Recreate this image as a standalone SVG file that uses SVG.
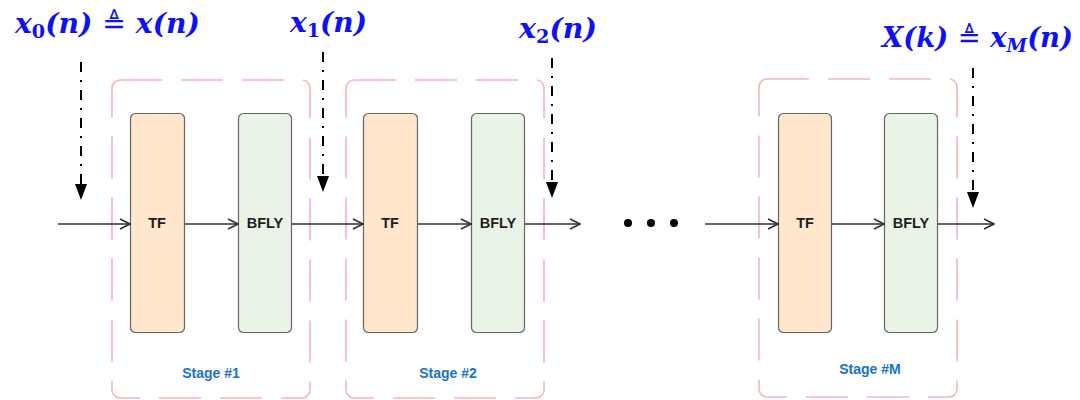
<svg xmlns="http://www.w3.org/2000/svg" width="1080" height="400" viewBox="0 0 1080 400">
  <style>
    .stage { fill: none; stroke: #f4b6b6; stroke-width: 1.6; stroke-dasharray: 42 19; }
    .tf { fill: #ffe6cc; stroke: #666; stroke-width: 1.2; }
    .bfly { fill: #eaf4e6; stroke: #666; stroke-width: 1.2; }
    .blk { font-family: "Liberation Sans", Arial, sans-serif; font-size: 14.5px; font-weight: bold; fill: #1e1e1e; text-anchor: middle; dominant-baseline: central; }
    .stg { font-family: "Liberation Sans", Arial, sans-serif; font-size: 14px; font-weight: bold; fill: #1a73c8; text-anchor: middle; }
    .flow { stroke: #333; stroke-width: 1.6; fill: none; marker-end: url(#open); }
    .probe { stroke: #000; stroke-width: 2; fill: none; stroke-dasharray: 10 8 2 8; }
    .sig { font-family: "DejaVu Serif", "Liberation Serif", serif; font-size: 28px; font-weight: bold; font-style: italic; fill: #1010f5; }
    .sub { font-size: 19px; font-style: normal; }
    .rel { font-family: "DejaVu Sans", sans-serif; font-weight: normal; font-style: normal; font-size: 28px; }
  </style>
  <defs>
    <marker id="open" viewBox="0 0 12 12" refX="11" refY="6" markerWidth="12" markerHeight="12" markerUnits="userSpaceOnUse" orient="auto">
      <path d="M1 1 L11 6 L1 11" fill="none" stroke="#333" stroke-width="1.6"/>
    </marker>
  </defs>

  <!-- stage 1 -->
  <g id="stage1">
    <rect class="stage" x="112" y="80" width="198" height="318" rx="8"/>
    <text class="stg" x="211" y="378">Stage #1</text>
  </g>
  <g id="tf1"><rect class="tf" x="130.5" y="113.5" width="54" height="219" rx="5"/><text class="blk" x="157" y="223">TF</text></g>
  <g id="bfly1"><rect class="bfly" x="238.5" y="113.5" width="53" height="219" rx="5"/><text class="blk" x="265" y="223">BFLY</text></g>

  <!-- stage 2 -->
  <g id="stage2">
    <rect class="stage" x="346" y="80" width="198" height="318" rx="8"/>
    <text class="stg" x="448" y="378">Stage #2</text>
  </g>
  <g id="tf2"><rect class="tf" x="363.5" y="113.5" width="54" height="219" rx="5"/><text class="blk" x="390" y="223">TF</text></g>
  <g id="bfly2"><rect class="bfly" x="471.5" y="113.5" width="53" height="219" rx="5"/><text class="blk" x="498" y="223">BFLY</text></g>

  <!-- stage M -->
  <g id="stageM">
    <rect class="stage" x="759" y="79" width="198" height="318" rx="8"/>
    <text class="stg" x="870" y="374">Stage #M</text>
  </g>
  <g id="tfM"><rect class="tf" x="778.5" y="113.5" width="53" height="219" rx="5"/><text class="blk" x="805" y="223">TF</text></g>
  <g id="bflyM"><rect class="bfly" x="884.5" y="113.5" width="53" height="219" rx="5"/><text class="blk" x="911" y="223">BFLY</text></g>

  <!-- ellipsis between stages -->
  <g id="ellipsis" fill="#000">
    <circle cx="628" cy="223" r="4"/>
    <circle cx="651" cy="223" r="4"/>
    <circle cx="674" cy="223" r="4"/>
  </g>

  <!-- data path -->
  <g id="connectors">
    <line class="flow" x1="58" y1="224" x2="130" y2="224"/>
    <line class="flow" x1="185" y1="224" x2="238" y2="224"/>
    <line class="flow" x1="292" y1="224" x2="363" y2="224"/>
    <line class="flow" x1="418" y1="224" x2="471" y2="224"/>
    <line class="flow" x1="525" y1="224" x2="580" y2="224"/>
    <line class="flow" x1="705" y1="224" x2="778" y2="224"/>
    <line class="flow" x1="832" y1="224" x2="884" y2="224"/>
    <line class="flow" x1="938" y1="224" x2="994" y2="224"/>

    <!-- signal probes -->
    <line class="probe" x1="81" y1="62" x2="81" y2="186"/>
    <path d="M75 184 L87 184 L81 200 Z" fill="#000"/>
    <line class="probe" x1="323" y1="52" x2="323" y2="178"/>
    <path d="M317 176 L329 176 L323 192 Z" fill="#000"/>
    <line class="probe" x1="552" y1="58" x2="552" y2="184"/>
    <path d="M546 182 L558 182 L552 198 Z" fill="#000"/>
    <line class="probe" x1="973" y1="68" x2="973" y2="194"/>
    <path d="M967 192 L979 192 L973 208 Z" fill="#000"/>
  </g>

  <!-- signal labels -->
  <g id="labels">
    <text class="sig" x="15" y="33" textLength="185" lengthAdjust="spacingAndGlyphs">x<tspan class="sub" dy="5">0</tspan><tspan dy="-5">(n) </tspan><tspan class="rel">≜</tspan> x(n)</text>
    <text class="sig" x="290" y="32" textLength="77" lengthAdjust="spacingAndGlyphs">x<tspan class="sub" dy="5">1</tspan><tspan dy="-5">(n)</tspan></text>
    <text class="sig" x="519" y="38" textLength="78" lengthAdjust="spacingAndGlyphs">x<tspan class="sub" dy="5">2</tspan><tspan dy="-5">(n)</tspan></text>
    <text class="sig" x="882" y="47" textLength="191" lengthAdjust="spacingAndGlyphs">X(k) <tspan class="rel">≜</tspan> x<tspan class="sub" dy="5" style="font-style:italic">M</tspan><tspan dy="-5">(n)</tspan></text>
  </g>
</svg>
